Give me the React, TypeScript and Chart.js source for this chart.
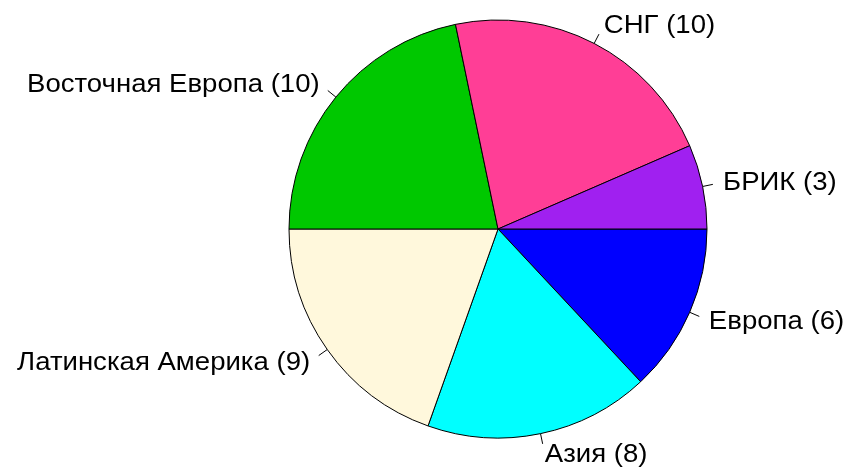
import React, { useEffect, useRef } from "react";
import { Chart, registerables } from "chart.js";

Chart.register(...registerables);

// Order: clockwise from 3 o'clock (R draws counter-clockwise from 3 o'clock)
const categories = ["Европа", "Азия", "Латинская Америка", "Восточная Европа", "СНГ", "БРИК"];
const values = [6, 8, 9, 10, 10, 3];
const colors = ["#0000FF", "#00FFFF", "#FFF8DC", "#00C800", "#FF3E96", "#A020F0"];

const labelPlugin = {
  id: "rPieLabels",
  afterDraw(chart: any) {
    const ctx = chart.ctx;
    const meta = chart.getDatasetMeta(0);
    ctx.save();
    ctx.font = "26px 'Liberation Sans', Arial, sans-serif";
    ctx.fillStyle = "#000";
    ctx.strokeStyle = "#000";
    ctx.lineWidth = 1;
    ctx.textBaseline = "middle";
    meta.data.forEach((arc: any, i: number) => {
      const { x, y, startAngle, endAngle, outerRadius } = arc.getProps(
        ["x", "y", "startAngle", "endAngle", "outerRadius"],
        true
      );
      const mid = (startAngle + endAngle) / 2;
      const c = Math.cos(mid);
      const s = Math.sin(mid);
      ctx.beginPath();
      ctx.moveTo(x + outerRadius * c, y + outerRadius * s);
      ctx.lineTo(x + outerRadius * 1.05 * c, y + outerRadius * 1.05 * s);
      ctx.stroke();
      const tx = x + outerRadius * 1.1 * c;
      const ty = y + outerRadius * 1.1 * s + 1;
      ctx.save();
      ctx.translate(tx, ty);
      ctx.scale(1.06, 1);
      ctx.textAlign = c > 0 ? "left" : "right";
      ctx.fillText(`${categories[i]} (${values[i]})`, 0, 0);
      ctx.restore();
    });
    ctx.restore();
  },
};

export default function App() {
  const ref = useRef<HTMLCanvasElement>(null);
  useEffect(() => {
    if (!ref.current) return;
    const chart = new Chart(ref.current, {
      type: "pie",
      data: {
        labels: categories,
        datasets: [
          {
            data: values,
            backgroundColor: colors,
            borderColor: "#000",
            borderWidth: 1,
            radius: 209,
          },
        ],
      },
      options: {
        responsive: false,
        animation: false,
        rotation: 90,
        layout: { padding: { left: 149, right: 0, top: 20, bottom: 30 } },
        plugins: { legend: { display: false }, tooltip: { enabled: false } },
      },
      plugins: [labelPlugin],
    });
    return () => chart.destroy();
  }, []);
  return (
    <div style={{ position: "fixed", left: 0, top: 0, width: 847, height: 468, background: "#fff" }}>
      <canvas ref={ref} width={847} height={468} />
    </div>
  );
}
